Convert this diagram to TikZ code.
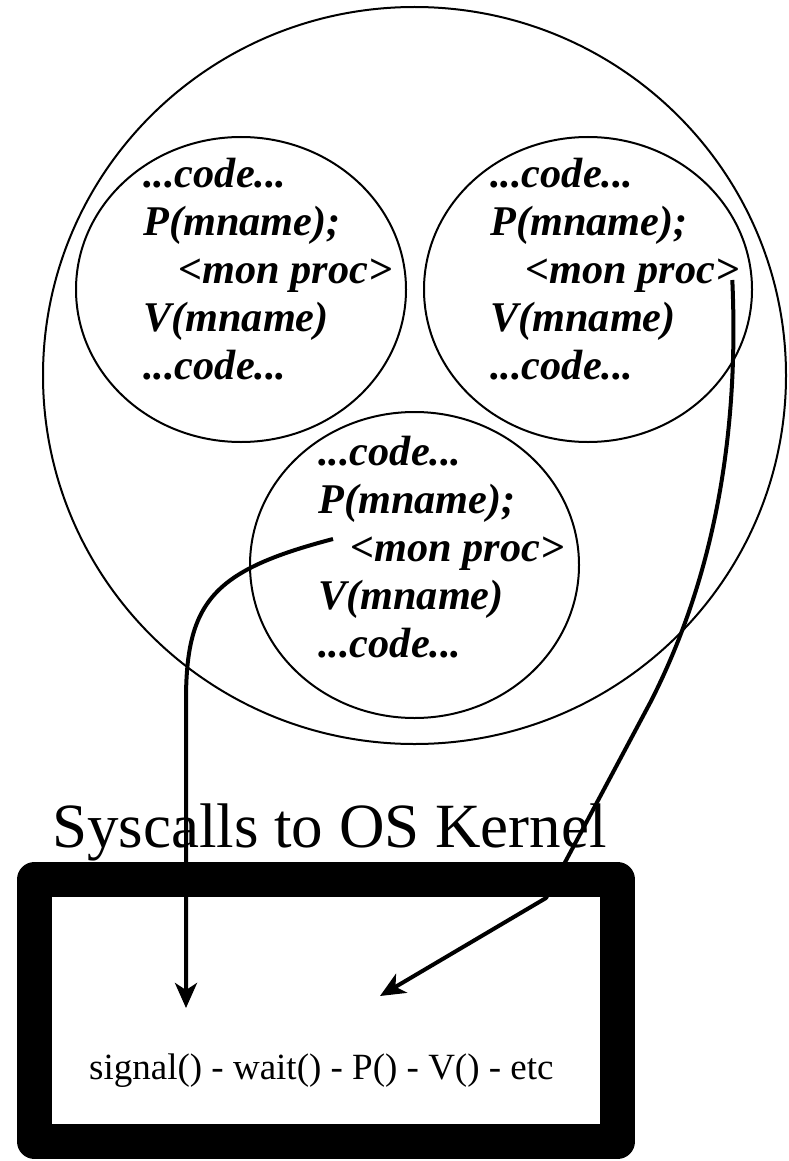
\documentclass[tikz,border=0pt]{standalone}
\usepackage{fontspec}
\setmainfont{Liberation Serif}
\usetikzlibrary{arrows.meta,shapes.geometric}
\begin{document}
\begin{tikzpicture}[x=1pt,y=-1pt,
  ring/.style={draw,line width=2pt,ellipse,inner sep=0pt},
  codeline/.style={anchor=base west,inner sep=0pt,
    font=\fontsize{42.3}{48}\selectfont\bfseries\itshape},
  callarrow/.style={line width=4pt,line join=round,
    -{Stealth[length=25pt,width=22pt,inset=7pt]}},
  kernelbox/.style={draw,line width=35pt,line join=round,inner sep=0pt,
    minimum width=583pt,minimum height=262pt},
]
\useasboundingbox (0,0) rectangle (788,1161);

% monitor and the three processes inside it
\node[ring,minimum width=743pt,minimum height=737pt] (monitor) at (414.5,375.5) {};
\node[ring,minimum width=330pt,minimum height=305pt] (proc1) at (241,289.5) {};
\node[ring,minimum width=328pt,minimum height=305pt] (proc2) at (588,289.5) {};
\node[ring,minimum width=329pt,minimum height=306pt] (proc3) at (414.5,565) {};

% code of process 1
\node[codeline] (a1) at (143,187) {...code...};
\node[codeline] (a2) at (143,235) {P(mname);};
\node[codeline] (mp1) at (178,283) {<mon proc>};
\node[codeline] (a4) at (143,331) {V(mname)};
\node[codeline] (a5) at (143,379) {...code...};

% code of process 2
\node[codeline] (b1) at (490,187) {...code...};
\node[codeline] (b2) at (490,235) {P(mname);};
\node[codeline] (mp2) at (525,283) {<mon proc>};
\node[codeline] (b4) at (490,331) {V(mname)};
\node[codeline] (b5) at (490,379) {...code...};

% code of process 3
\node[codeline] (c1) at (318,465) {...code...};
\node[codeline] (c2) at (318,513) {P(mname);};
\node[codeline] (mp3) at (350,561) {<mon proc>};
\node[codeline] (c4) at (318,609) {V(mname)};
\node[codeline] (c5) at (318,657) {...code...};

% kernel
\node[anchor=base west,inner sep=0pt,font=\fontsize{63}{70}\selectfont]
  (title) at (52,847) {Syscalls to OS Kernel};
\node[kernelbox] (kernel) at (326,1010.5) {};
\node[anchor=base west,inner sep=0pt,font=\fontsize{37}{44}\selectfont]
  (ops) at (89,1079) {signal() - wait() - P() - V() - etc};

% call paths into the kernel
\coordinate (enter1) at (186,1008);
\coordinate (bend2) at (650,703);
\coordinate (knee2) at (546,898);
\coordinate (enter2) at (380,996);

\draw[callarrow] ([shift={(-17,-22)}]mp3.base west)
  .. controls (215,570) and (186,600) .. (186,700) -- (enter1);

\draw[callarrow] ([shift={(-7,-3)}]mp2.base east)
  .. controls (740,450) and (708,590) .. (bend2) -- (knee2) -- (enter2);
\end{tikzpicture}
\end{document}
